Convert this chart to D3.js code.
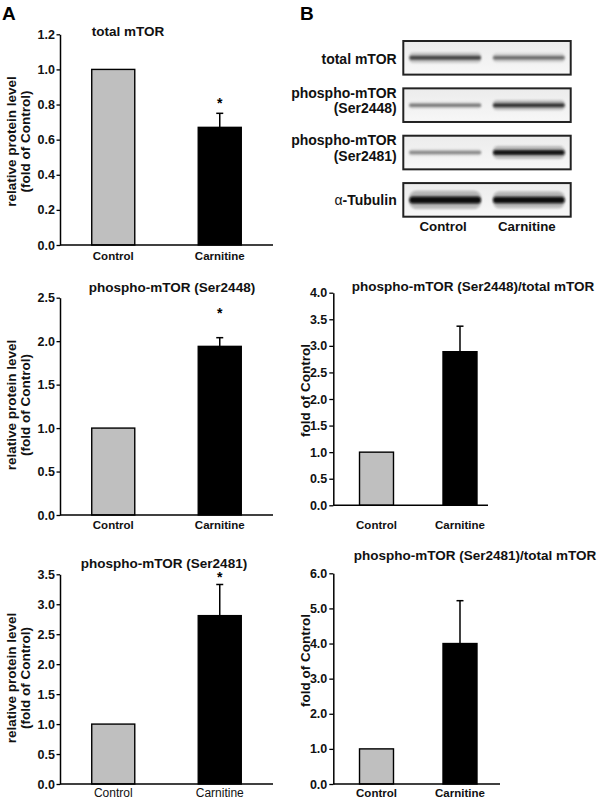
<!DOCTYPE html>
<html><head><meta charset="utf-8">
<script src="https://cdn.jsdelivr.net/npm/d3@7"></script>
<style>
body{margin:0;background:#fff}
svg{display:block;font-family:"Liberation Sans",Arial,Helvetica,sans-serif}
</style>
</head><body><svg id="c" width="600" height="800"></svg>
<script>
// ---------------- data ----------------
const groups = ["Control", "Carnitine"];

const totalMTOR      = [1.00, 0.67];
const totalMTORErr   = [0, 0.08];
const pSer2448       = [1.00, 1.94];
const pSer2448Err    = [0, 0.10];
const pSer2481       = [1.00, 2.81];
const pSer2481Err    = [0, 0.52];
const ratio2448      = [1.00, 2.89];
const ratio2448Err   = [0, 0.48];
const ratio2481      = [1.00, 4.00];
const ratio2481Err   = [0, 1.22];

const sigTotal = [false, true];
const sig2448  = [false, true];
const sig2481  = [false, true];
const sigNone  = [false, false];

const ticksTotal = [0, 0.2, 0.4, 0.6, 0.8, 1.0, 1.2];
const ticks2448  = [0, 0.5, 1.0, 1.5, 2.0, 2.5];
const ticks2481  = [0, 0.5, 1.0, 1.5, 2.0, 2.5, 3.0, 3.5];
const ticksR2448 = [0, 0.5, 1.0, 1.5, 2.0, 2.5, 3.0, 3.5, 4.0];
const ticksR2481 = [0, 1, 2, 3, 4, 5, 6];

const blotRows = ["total mTOR", "phospho-mTOR|(Ser2448)", "phospho-mTOR|(Ser2481)", "α-Tubulin"];
const bandDensity   = [[0.74, 0.58], [0.58, 0.80], [0.52, 0.90], [0.97, 0.95]];
const bandThickness = [[4, 3.5], [2.5, 4], [2.5, 5], [7, 6.5]];

// ---------------- drawing ----------------
const svg = d3.select("#c");
const FILL = {Control: "#bfbfbf", Carnitine: "#000"};

function barChart(c) {
  const g = svg.append("g");
  const y = d3.scaleLinear().domain([0, c.max]).range([c.y0, c.y1]);
  const x = d3.scaleBand().domain(groups).range(c.xr).paddingInner(c.pi).paddingOuter(c.po);

  g.selectAll("rect.bar").data(groups).join("rect")
    .attr("x", d => x(d)).attr("width", x.bandwidth())
    .attr("y", (d, i) => y(c.values[i]))
    .attr("height", (d, i) => y(0) - y(c.values[i]))
    .attr("fill", d => FILL[d]).attr("stroke", "#000").attr("stroke-width", 1.4);

  const eb = groups.map((d, i) => ({d, i})).filter(o => c.err[o.i] > 0);
  eb.forEach(o => {
    const cx = x(o.d) + x.bandwidth() / 2;
    const top = y(c.values[o.i] + c.err[o.i]);
    g.append("line").attr("x1", cx).attr("x2", cx)
      .attr("y1", y(c.values[o.i])).attr("y2", top)
      .attr("stroke", "#000").attr("stroke-width", 1.5);
    g.append("line").attr("x1", cx - 3.5).attr("x2", cx + 3.5)
      .attr("y1", top).attr("y2", top)
      .attr("stroke", "#000").attr("stroke-width", 1.5);
    if (c.sig[o.i]) {
      g.append("text").attr("x", cx).attr("y", top - c.starGap)
        .attr("text-anchor", "middle").attr("font-weight", "bold")
        .attr("font-size", 14).text("*");
    }
  });

  const ax = g.append("g").attr("transform", `translate(${c.xr[0]},0)`)
    .call(d3.axisLeft(y).tickValues(c.ticks).tickFormat(d3.format(".1f"))
      .tickSize(c.tickSize).tickSizeOuter(0).tickPadding(c.tickPad));
  ax.select(".domain").attr("stroke-width", 1.5);
  ax.selectAll(".tick line").attr("stroke-width", 1.3);
  ax.selectAll(".tick text").attr("font-size", 12.5).attr("font-weight", "bold")
    .attr("font-family", '"Liberation Sans",Arial,sans-serif').attr("fill", "#111");

  g.append("line").attr("x1", c.xr[0]).attr("x2", c.xEnd)
    .attr("y1", y(0)).attr("y2", y(0)).attr("stroke", "#000").attr("stroke-width", 1.5);

  g.selectAll("text.xl").data(groups).join("text").attr("class", "xl")
    .attr("x", d => x(d) + x.bandwidth() / 2).attr("y", c.xLabelY)
    .attr("text-anchor", "middle").attr("font-size", c.xLabelSize)
    .attr("font-weight", c.xLabelWeight).attr("fill", "#111").text(d => d);

  g.append("text").attr("x", c.titleX).attr("y", c.titleY).attr("text-anchor", "middle")
    .attr("font-size", 13.5).attr("font-weight", "bold").attr("fill", "#111").text(c.title);

  const yl = g.append("text").attr("transform", `translate(0,${c.ylCenter}) rotate(-90)`)
    .attr("text-anchor", "middle").attr("font-size", 13.5).attr("font-weight", "bold").attr("fill", "#111");
  c.ylabel.forEach((t, k) => {
    yl.append("tspan").attr("x", 0).attr("y", c.ylX[k]).text(t);
  });
}

const yLabA = ["relative protein level", "(fold of Control)"];
const xrA = [60, 273], xrB = [333.3, 503.2];

barChart({values: totalMTOR, err: totalMTORErr, sig: sigTotal, ticks: ticksTotal, max: 1.2,
  y0: 245, y1: 34.3, xr: xrA, pi: 0.596, po: 0.298, xEnd: 273, tickSize: 3.5, tickPad: 1.5,
  starGap: 5, xLabelY: 259.5, xLabelSize: 11.5, xLabelWeight: "bold",
  title: "total mTOR", titleX: 128, titleY: 35.5, ylabel: yLabA, ylX: [15.5, 29.5], ylCenter: 141.5});

barChart({values: pSer2448, err: pSer2448Err, sig: sig2448, ticks: ticks2448, max: 2.5,
  y0: 515, y1: 297.7, xr: xrA, pi: 0.596, po: 0.298, xEnd: 273, tickSize: 3.5, tickPad: 1.5,
  starGap: 20, xLabelY: 528.5, xLabelSize: 11.5, xLabelWeight: "bold",
  title: "phospho-mTOR (Ser2448)", titleX: 172, titleY: 291.5, ylabel: yLabA, ylX: [15.5, 29.5], ylCenter: 405});

barChart({values: pSer2481, err: pSer2481Err, sig: sig2481, ticks: ticks2481, max: 3.5,
  y0: 784, y1: 574.3, xr: xrA, pi: 0.596, po: 0.298, xEnd: 273, tickSize: 3.5, tickPad: 1.5,
  starGap: 2, xLabelY: 797, xLabelSize: 12, xLabelWeight: "normal",
  title: "phospho-mTOR (Ser2481)", titleX: 164, titleY: 568, ylabel: yLabA, ylX: [15.5, 29.5], ylCenter: 678});

barChart({values: ratio2448, err: ratio2448Err, sig: sigNone, ticks: ticksR2448, max: 4.0,
  y0: 505.3, y1: 292.7, xr: xrB, pi: 0.593, po: 0.314, xEnd: 488, tickSize: 4, tickPad: 2,
  starGap: 10, xLabelY: 529, xLabelSize: 11.5, xLabelWeight: "bold",
  title: "phospho-mTOR (Ser2448)/total mTOR", titleX: 473, titleY: 290.5,
  ylabel: ["fold of Control"], ylX: [309.5], ylCenter: 390.5});

barChart({values: ratio2481, err: ratio2481Err, sig: sigNone, ticks: ticksR2481, max: 6.0,
  y0: 784, y1: 573.3, xr: xrB, pi: 0.593, po: 0.314, xEnd: 500, tickSize: 4, tickPad: 2,
  starGap: 10, xLabelY: 796.5, xLabelSize: 11.5, xLabelWeight: "bold",
  title: "phospho-mTOR (Ser2481)/total mTOR", titleX: 475, titleY: 560,
  ylabel: ["fold of Control"], ylX: [309.5], ylCenter: 660.5});

svg.append("text").attr("x", 2).attr("y", 19.5).attr("font-size", 19).attr("font-weight", "bold").text("A");
svg.append("text").attr("x", 300).attr("y", 19.5).attr("font-size", 19).attr("font-weight", "bold").text("B");

// ---------------- western blot ----------------
const defs = svg.append("defs");
defs.append("filter").attr("id", "blur").attr("x", "-20%").attr("y", "-200%").attr("width", "140%").attr("height", "500%")
  .append("feGaussianBlur").attr("stdDeviation", "1.3 0.9");
const bg = defs.append("linearGradient").attr("id", "bg").attr("x1", 0).attr("x2", 0).attr("y1", 0).attr("y2", 1);
bg.append("stop").attr("offset", 0).attr("stop-color", "#ececec");
bg.append("stop").attr("offset", 1).attr("stop-color", "#f7f7f7");

const blotX = d3.scaleBand().domain(groups).range([403.3, 570.7]);
const blotY = d3.scaleBand().domain(blotRows).range([41, 216.7]).paddingInner(0.29);
const bgb = svg.append("g");

blotRows.forEach((row, r) => {
  const top = blotY(row), h = blotY.bandwidth(), mid = top + h / 2;
  bgb.append("rect").attr("x", blotX.range()[0]).attr("y", top)
    .attr("width", blotX.range()[1] - blotX.range()[0]).attr("height", h)
    .attr("fill", "url(#bg)").attr("stroke", "#222").attr("stroke-width", 2);
  groups.forEach((gname, l) => {
    const th = bandThickness[r][l];
    const dens = bandDensity[r][l];
    const grey = Math.round(255 * (1 - dens));
    const bx = blotX(gname) + 6, bw = blotX.bandwidth() - 12;
    bgb.append("rect").attr("x", bx).attr("y", mid - th * 1.3).attr("width", bw).attr("height", th * 2.6)
      .attr("rx", th).attr("fill", d3.rgb(grey, grey, grey)).attr("opacity", 0.25).attr("filter", "url(#blur)");
    bgb.append("rect").attr("x", bx).attr("y", mid - th / 2).attr("width", bw).attr("height", th)
      .attr("rx", th / 2).attr("fill", d3.rgb(grey, grey, grey)).attr("filter", "url(#blur)");
  });
  const parts = row.split("|");
  const lab = bgb.append("text").attr("text-anchor", "end").attr("font-size", 14)
    .attr("font-weight", "bold").attr("fill", "#111");
  if (parts.length === 1) {
    if (row.startsWith("α")) {
      lab.append("tspan").attr("x", 396.7).attr("y", mid + 5).attr("font-weight", "normal").text("α");
      lab.append("tspan").text(row.slice(1));
    } else {
      lab.append("tspan").attr("x", 396.7).attr("y", mid + 6).text(row);
    }
  } else {
    lab.append("tspan").attr("x", 396.7).attr("y", mid - 7.5).text(parts[0]);
    lab.append("tspan").attr("x", 396.7).attr("y", mid + 8).text(parts[1]);
  }
});

bgb.selectAll("text.lane").data(groups).join("text").attr("class", "lane")
  .attr("x", d => blotX(d) + blotX.bandwidth() / 2 - 2).attr("y", 231)
  .attr("text-anchor", "middle").attr("font-size", 13.3).attr("font-weight", "bold")
  .attr("fill", "#111").text(d => d);
</script>
</body></html>
